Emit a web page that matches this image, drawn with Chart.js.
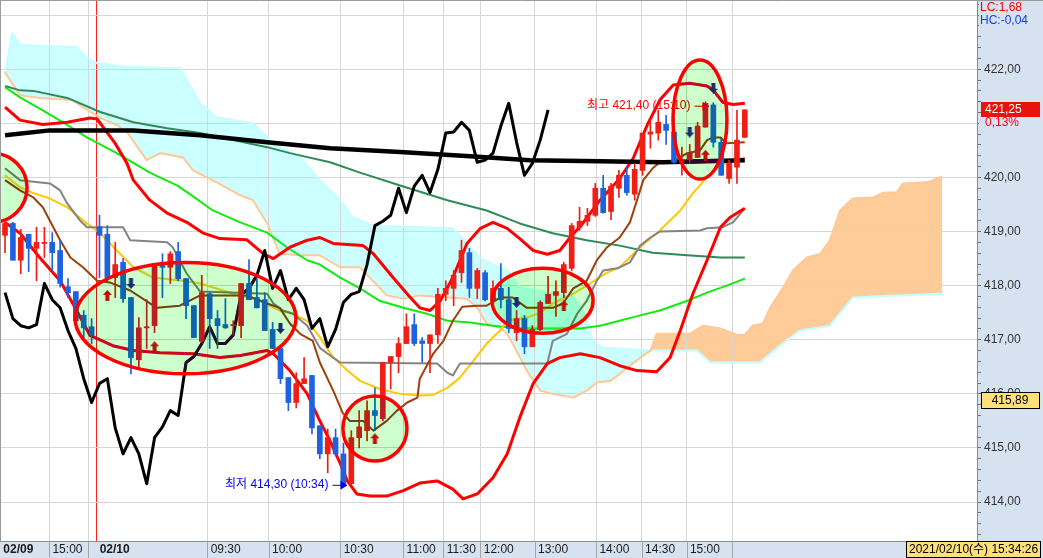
<!DOCTYPE html>
<html>
<head>
<meta charset="utf-8">
<script src="https://cdn.jsdelivr.net/npm/chart.js@4.4.1/dist/chart.umd.min.js"></script>
<style>
html, body { margin: 0; padding: 0; background: #fff; }
canvas { display: block; }
</style>
</head>
<body>
<canvas id="chart" width="1043" height="558"></canvas>
<script>
// 캔들 (시가 / 고가 / 저가 / 종가), x = 봉 번호
const opens = [418.93,419.15,418.47,418.95,418.69,418.78,418.80,418.65,417.98,417.89,
  417.45,417.24,419.09,418.95,418.15,418.43,417.78,416.63,417.22,417.26,
  418.37,418.34,418.63,418.13,417.63,416.97,417.85,417.39,417.28,417.26,
  417.26,418.04,417.78,417.74,417.19,416.84,416.30,415.84,416.19,416.34,
  415.41,414.89,415.19,414.89,414.34,415.19,415.32,415.69,415.54,416.58,
  416.69,416.93,417.28,416.98,416.93,417.09,417.84,417.95,418.24,418.61,
  417.95,418.24,417.72,417.95,417.74,417.13,417.39,416.87,417.19,417.67,
  417.82,417.87,418.32,419.08,419.19,419.30,419.80,419.37,419.80,420.04,
  419.69,420.13,420.80,420.82,420.98,420.84,420.28,420.32,420.37,420.93,
  421.34,420.65,419.98,420.19,420.74];
const highs = [419.17,419.17,419.04,418.95,419.08,419.08,418.98,418.84,418.13,417.89,
  417.54,417.39,419.30,419.11,418.80,418.50,417.78,417.41,417.74,418.41,
  418.59,418.63,418.80,418.13,417.63,418.19,417.87,417.54,417.76,417.35,
  418.04,418.48,418.13,417.87,417.32,416.84,416.30,416.39,416.67,416.34,
  415.41,415.35,415.35,415.09,415.32,415.69,415.87,416.11,416.58,416.69,
  417.04,417.48,417.48,417.04,417.09,417.95,418.09,418.28,418.84,418.69,
  418.32,418.28,418.09,418.41,417.97,417.54,417.45,417.26,417.72,418.17,
  418.09,418.43,419.15,419.45,419.43,419.89,420.04,419.89,420.13,420.19,
  420.26,420.82,421.06,421.24,421.15,421.10,420.56,420.61,421.02,421.40,
  421.38,420.74,420.32,421.24,421.25];
const lows = [418.61,418.47,418.22,418.26,418.09,418.52,418.28,417.97,417.78,417.30,
  417.04,416.93,418.15,418.09,417.78,417.69,416.37,416.48,416.84,417.13,
  417.78,418.04,418.09,417.39,417.04,416.97,416.84,416.84,417.21,417.08,
  417.04,417.74,417.59,417.17,416.84,416.19,415.69,415.74,416.19,415.26,
  414.80,414.54,414.85,414.30,414.34,415.00,415.13,415.32,415.50,416.09,
  416.39,416.93,416.89,416.58,416.39,416.93,417.72,417.63,418.06,417.78,
  417.76,417.72,417.67,417.59,417.13,416.98,416.74,416.87,417.17,417.67,
  417.43,417.78,418.28,419.02,419.11,419.28,419.34,419.22,419.63,419.67,
  419.58,420.04,420.54,420.69,420.61,420.26,420.04,420.26,420.37,420.93,
  420.56,420.04,419.89,419.89,420.74];
const closes = [419.15,418.47,418.89,418.69,418.80,418.80,418.61,418.04,417.87,417.35,
  417.22,417.08,418.93,418.15,418.39,417.76,416.67,417.22,417.24,418.37,
  418.34,418.59,418.13,417.63,417.04,417.87,417.39,417.26,417.22,417.28,
  418.04,417.74,417.59,417.17,416.84,416.28,415.84,416.19,416.28,415.37,
  414.89,415.19,414.89,414.34,415.19,415.39,415.69,415.60,416.58,416.69,
  416.93,417.24,416.93,416.93,417.09,417.84,417.95,418.19,418.65,417.95,
  418.28,417.74,417.95,417.74,417.21,417.39,416.87,417.19,417.69,417.84,
  417.89,418.39,419.11,419.19,419.30,419.80,419.35,419.84,420.04,419.72,
  420.15,420.82,420.84,421.02,420.87,420.28,420.32,420.45,420.95,421.37,
  420.65,420.04,420.26,420.69,421.25];

// 후행스팬 (봉 번호 0부터)
const chikou = [417.87,417.39,417.26,417.22,417.28,418.04,417.74,417.59,417.17,416.84,
  416.28,415.84,416.19,416.28,415.37,414.89,415.19,414.89,414.34,415.19,
  415.39,415.69,415.60,416.58,416.69,416.93,417.24,416.93,416.93,417.09,
  417.84,417.95,418.19,418.65,417.95,418.28,417.74,417.95,417.74,417.21,
  417.39,416.87,417.19,417.69,417.84,417.89,418.39,419.11,419.19,419.30,
  419.80,419.35,419.84,420.04,419.72,420.15,420.82,420.84,421.02,420.87,
  420.28,420.32,420.45,420.95,421.37,420.65,420.04,420.26,420.69,421.25];

// 보조지표 선 [봉 번호, 값]
const upperBand = [[0,421.30],[1.9,421.06],[4.8,420.98],[7.9,421.02],[10.8,421.10],[11.7,421.08],[14,420.63],[15.5,420.26],[16.3,419.95],[18.4,419.58],[20.6,419.34],[23.1,419.17],[25.2,418.97],[27.3,418.87],[30.7,418.85],[32.8,418.59],[34.1,418.50],[36.2,418.71],[38.4,418.84],[40,418.89],[41.7,418.78],[43.5,418.76],[45.5,418.74],[46.8,418.59],[49.3,418.15],[51.5,417.78],[52.7,417.59],[54,417.54],[55.3,417.72],[56.9,418.15],[58.7,418.78],[60.4,419.06],[62,419.17],[63.8,419.06],[65.4,418.87],[67.1,418.65],[68.9,418.58],[70.5,418.65],[71.8,418.89],[73.4,419.15],[75.6,419.58],[78.1,419.98],[79.8,420.35],[81.6,420.97],[83.2,421.43],[84.9,421.71],[87,421.74],[89.2,421.69],[90,421.61],[91.2,421.39],[92.5,421.35],[94,421.37]];
const lowerBand = [[0,419.17],[1.9,418.97],[4.4,418.52],[7,418.09],[9.1,417.54],[10.8,417.08],[13.7,416.89],[16.3,416.80],[19.7,416.76],[23.9,416.74],[27.3,416.67],[29.9,416.71],[33.3,416.80],[34.1,416.74],[36.2,416.43],[38.4,416.00],[40,415.50],[41.3,415.13],[42.6,414.71],[43.5,414.39],[44.7,414.15],[46.4,414.11],[48.5,414.11],[50.6,414.21],[52.7,414.35],[54.9,414.39],[56.9,414.24],[58.2,414.06],[60,414.15],[62,414.45],[63.8,414.89],[65.4,415.56],[67.1,416.19],[68.9,416.56],[70.5,416.67],[73.1,416.74],[75.6,416.67],[78.1,416.52],[80.3,416.43],[82.8,416.41],[84.5,416.67],[85.8,417.17],[87.4,417.85],[89.2,418.47],[90.9,419.08],[92.1,419.26],[94,419.43]];
const maLong = [[0,420.78],[5.7,420.87],[16.3,420.87],[24.8,420.78],[33.3,420.65],[41.3,420.54],[50.2,420.47],[59.1,420.39],[66.7,420.32],[75.6,420.30],[83.6,420.28],[94,420.32]];
const maGreen = [[0,421.69],[1.9,421.61],[3.6,421.60],[7.9,421.47],[12.1,421.21],[16.3,421.02],[20.6,420.91],[24.8,420.82],[29,420.69],[33.3,420.56],[36.2,420.45],[41.3,420.28],[45.1,420.09],[50.2,419.85],[56.2,419.58],[61.2,419.39],[65.4,419.15],[69.6,418.97],[73.9,418.84],[78.1,418.74],[82.3,418.61],[86.7,418.56],[90.9,418.52],[94,418.52]];
const maLime = [[0,421.67],[1.9,421.48],[4.8,421.24],[7.9,420.97],[10.4,420.74],[14.2,420.45],[18.4,420.09],[21.9,419.85],[23.9,419.65],[26.4,419.39],[29.9,419.17],[33.3,418.98],[35.8,418.71],[38.4,418.47],[40,418.39],[42.6,418.15],[45.1,417.95],[47.6,417.72],[50.6,417.59],[53.6,417.48],[56.2,417.35],[59.1,417.32],[62,417.26],[65.4,417.21],[73.1,417.21],[75.6,417.26],[78.1,417.35],[80.7,417.45],[83.2,417.54],[86.7,417.72],[89.2,417.87],[91.7,418.00],[94,418.13]];
const maYellow = [[0,420.04],[1.9,419.82],[3.6,419.71],[5.7,419.61],[7.9,419.45],[10.4,419.15],[12.1,418.97],[14.2,418.65],[16.3,418.34],[18.8,418.15],[22.6,418.09],[24.8,418.04],[29,417.85],[32.4,417.72],[34.9,417.54],[36.6,417.48],[38.4,417.35],[40,417.05],[41.7,416.67],[43.5,416.43],[45.1,416.24],[47.6,416.09],[50.2,416.00],[52.7,415.97],[54.4,415.98],[56.2,416.11],[57.8,416.30],[59.5,416.61],[61.2,416.93],[62.9,417.17],[63.8,417.35],[66.3,417.41],[68,417.50],[69.6,417.67],[72.2,417.85],[73.9,418.00],[76.5,418.24],[78.1,418.34],[80.7,418.71],[83.2,419.02],[85.8,419.39],[87.4,419.71],[89.2,420.00],[90.9,420.22],[92.5,420.32],[94,420.37]];
const maGray = [[0,420.17],[1.9,419.95],[5.7,419.89],[7,419.76],[7.9,419.52],[9.5,419.21],[10.4,419.08],[15,419.08],[15.9,418.84],[20.6,418.80],[21.3,418.71],[23.1,418.22],[24.8,417.89],[33.3,417.85],[34.1,417.67],[35.3,417.54],[36.6,417.48],[38.4,417.26],[40,416.85],[41.3,416.71],[42.6,416.58],[54.9,416.56],[56.2,416.39],[56.9,416.34],[57.8,416.56],[68.9,416.56],[69.6,416.98],[71.4,417.11],[72.7,417.48],[73.9,417.72],[75.2,418.09],[76,418.28],[77.8,418.32],[79.4,418.43],[80.7,418.74],[82,418.89],[83.2,419.00],[88.3,419.02],[89.2,419.06],[91.2,419.08],[92.5,419.17],[94,419.43]];
const maBrown = [[0,419.95],[1.9,419.76],[3.6,419.63],[4.8,419.45],[7,418.84],[8.3,418.52],[9.9,418.34],[11.7,418.09],[13.3,418.06],[15.9,417.91],[19.3,417.59],[22.2,417.63],[24.8,417.82],[30.7,417.82],[33.3,417.67],[34.9,417.59],[36.2,417.30],[37.5,417.11],[39.1,416.98],[40,416.58],[41.7,416.06],[42.9,415.65],[43.8,415.50],[45.5,415.50],[46.8,415.32],[48.5,415.50],[49.8,415.69],[51.1,415.84],[52.4,415.93],[52.7,416.28],[54.4,416.74],[55.7,416.98],[56.9,417.35],[58.1,417.61],[60,417.63],[61.2,417.63],[62.9,417.78],[64.5,417.78],[66.3,417.59],[69.6,417.59],[70.9,417.67],[72.2,417.95],[73.9,418.09],[75.2,418.47],[76.5,418.71],[78.1,418.89],[79.4,419.17],[80.3,419.58],[81.1,419.95],[82.3,420.17],[83.2,420.28],[84.9,420.30],[86.7,420.45],[88.3,420.50],[89.2,420.69],[90,420.74],[90.9,420.74],[91.7,420.63],[94,420.65]];

// 선행스팬 1 / 2
const span1 = [[0,421.95],[0.4,421.85],[1.9,421.52],[4.4,421.47],[8.6,421.43],[9.9,421.30],[12.1,421.10],[14.2,420.97],[15.5,420.84],[18,420.32],[19.7,420.45],[22.6,420.37],[23.9,420.13],[26.9,419.91],[29.9,419.67],[31.5,419.58],[33.3,419.15],[34.9,418.59],[37.5,418.56],[40,418.56],[42.6,418.34],[45.1,418.34],[48.5,417.82],[50.6,417.76],[52.7,417.82],[58.7,417.76],[60,417.59],[61.2,417.30],[62.9,417.22],[63.8,417.11],[64.5,416.93],[66.3,416.43],[68,416.06],[69.6,416.00],[72.2,415.93],[73.9,416.06],[75.2,416.21],[76.9,416.24],[78.1,416.37],[80.7,416.67],[82,416.80],[82.8,417.11],[87,417.11],[88.7,417.26],[90.9,417.21],[93,417.09],[94,417.09],[95,417.26],[96.3,417.30],[97.2,417.59],[98.9,417.97],[100.1,418.28],[101.9,418.52],[103.6,418.59],[104.8,418.84],[106.1,419.39],[107.7,419.61],[110.3,419.63],[111.6,419.72],[113.3,419.72],[114.1,419.89],[117.2,419.91],[119.1,420.02]];
const span2 = [[0,421.90],[0.9,422.67],[1.9,422.45],[9.1,422.41],[10.4,422.21],[11.7,422.11],[15.5,422.04],[22.2,422.02],[24.8,421.37],[26.9,421.11],[31.5,421.00],[34.1,420.63],[37.5,420.37],[40,419.95],[42.6,419.58],[44.2,419.26],[46.8,419.11],[56.9,419.06],[58.7,418.78],[60.4,418.50],[63.8,418.28],[65.4,417.97],[72.2,417.78],[73.4,417.54],[74.7,416.98],[76,416.85],[82,416.80],[87.9,416.80],[89.6,416.58],[95.9,416.58],[98.1,416.85],[101,417.17],[104.8,417.26],[107.7,417.78],[113.3,417.82],[119.1,417.85]];

// 매수 / 매도 신호 [봉 번호, 값]
const buySignals = [[13,417.82],[19,416.87],[47,415.17],[71,417.63],[89,420.41]];
const sellSignals = [[16,418.04],[35,417.21],[65,417.69],[87,420.84],[90,421.65]];

// 시간축 라벨
const xTickPos = [-0.64,5.6,10.6,11.6,25.7,33.5,42.6,50.6,55.7,60.4,67.3,75.1,80.9,86.6,92.4];
const xTickText = ['02/09','15:00','','02/10','09:30','10:00','10:30','11:00','11:30','12:00','13:00','14:00','14:30','15:00',''];

const highMark = {i: 89, price: 421.40, time: '15:10'};
const lowMark = {i: 43, price: 414.30, time: '10:34'};
const lastPrice = 421.25, changeText = '0,13%', refPrice = 415.89;
const lcText = 'LC:1,68', hcText = 'HC:-0,04', stamp = '2021/02/10(수) 15:34:26';

// 강조 타원 [중심 봉, 중심 값, 가로 반경(봉), 세로 반경(값)]
const zones = [[-1.65,419.81,4.45,0.64],[22.93,417.40,14.04,1.03],[47,415.36,4.07,0.60],[68.3,417.72,6.42,0.60],[88.3,421.07,3.43,1.10]];

const FONT = "'Liberation Sans', 'Noto Sans CJK KR', sans-serif";
Chart.defaults.font.family = FONT;
Chart.defaults.font.size = 12;
const UP = '#f01e14', DOWN = '#1f62e0', AXIS_BG = '#d7e2f0';
const fmt = v => v.toFixed(2).replace('.', ',');

function arrowImg(color, up) {
    const c = document.createElement('canvas');
    c.width = 9; c.height = 11;
    const g = c.getContext('2d');
    g.fillStyle = color;
    g.beginPath();
    if (up) {
        g.moveTo(4.5, 0); g.lineTo(9, 5); g.lineTo(6.5, 5); g.lineTo(6.5, 11); g.lineTo(2.5, 11); g.lineTo(2.5, 5); g.lineTo(0, 5);
    } else {
        g.moveTo(4.5, 11); g.lineTo(9, 6); g.lineTo(6.5, 6); g.lineTo(6.5, 0); g.lineTo(2.5, 0); g.lineTo(2.5, 6); g.lineTo(0, 6);
    }
    g.closePath(); g.fill();
    return c;
}

const line = (data, color, width, order) => ({
    type: 'line', data: data.map(([x, y]) => ({x, y})), borderColor: color, borderWidth: width,
    pointRadius: 0, tension: 0, fill: false, order, borderJoinStyle: 'round'
});

const idx = closes.map((_, i) => i);
const candleColor = idx.map(i => closes[i] >= opens[i] ? UP : DOWN);

function markLabel(ctx, x, y, m, word, color, dy) {
    const tip = x.getPixelForValue(m.i) + 4;
    const py = y.getPixelForValue(m.price) + dy;
    ctx.fillStyle = color; ctx.strokeStyle = color; ctx.lineWidth = 1;
    ctx.textAlign = 'right'; ctx.textBaseline = 'middle';
    ctx.fillText(word + ' ' + fmt(m.price) + ' (' + m.time + ')', tip - 19, py);
    ctx.beginPath(); ctx.moveTo(tip - 15, py + 0.5); ctx.lineTo(tip - 5, py + 0.5); ctx.stroke();
    ctx.beginPath(); ctx.moveTo(tip - 7, py - 4); ctx.lineTo(tip, py + 0.5); ctx.lineTo(tip - 7, py + 5); ctx.closePath(); ctx.fill();
}

// 축 배경, 타원, 가격 박스
const decor = {
    id: 'decor',
    beforeDraw(chart) {
        const {ctx, chartArea: a, width, height} = chart;
        ctx.save();
        ctx.globalCompositeOperation = 'destination-over';
        ctx.fillStyle = '#fff';
        ctx.fillRect(0, 0, width, height);
        ctx.globalCompositeOperation = 'source-over';
        ctx.fillStyle = AXIS_BG;
        ctx.fillRect(a.right, 0, width - a.right, height);
        ctx.fillRect(0, a.bottom, a.right, height - a.bottom);
        ctx.restore();
    },
    afterDatasetsDraw(chart) {
        const {ctx, chartArea: a, scales: {x, y}} = chart;
        ctx.save();
        ctx.beginPath(); ctx.rect(a.left, a.top, a.right - a.left, a.bottom - a.top); ctx.clip();
        ctx.font = '12px ' + FONT;
        markLabel(ctx, x, y, highMark, '최고', '#ff0000', 4);
        markLabel(ctx, x, y, lowMark, '최저', '#0000ff', -1);
        zones.forEach(([ci, cp, ri, rp]) => {
            const cx = x.getPixelForValue(ci), cy = y.getPixelForValue(cp);
            const rx = x.getPixelForValue(ci + ri) - cx, ry = cy - y.getPixelForValue(cp + rp);
            ctx.beginPath(); ctx.ellipse(cx, cy, rx, ry, 0, 0, Math.PI * 2);
            ctx.globalCompositeOperation = 'difference';
            ctx.fillStyle = 'rgb(51,0,51)'; ctx.fill();
            ctx.globalCompositeOperation = 'source-over';
            ctx.lineWidth = 3.5; ctx.strokeStyle = '#ff0000'; ctx.stroke();
        });
        ctx.restore();
    },
    afterDraw(chart) {
        const {ctx, chartArea: a, width, height, scales: {x, y}} = chart;
        ctx.save();
        ctx.lineWidth = 1;
        // LC / HC 영역 (423,00 라벨 가림)
        ctx.fillStyle = AXIS_BG; ctx.fillRect(a.right + 2, 1, width - a.right - 2, 27);
        ctx.strokeStyle = '#9a9a9a';
        ctx.beginPath(); ctx.moveTo(0, 0.5); ctx.lineTo(width, 0.5); ctx.moveTo(0.5, 0); ctx.lineTo(0.5, a.bottom); ctx.stroke();
        ctx.strokeStyle = '#a4a4a4';
        x.ticks.forEach((t, k) => {
            if (k === 0 || xTickText[k] === '02/10') return;
            const p = Math.round(x.getPixelForValue(t.value)) + 0.5;
            ctx.beginPath(); ctx.moveTo(p, a.bottom); ctx.lineTo(p, height); ctx.stroke();
        });
        ctx.font = '12px ' + FONT;
        ctx.textBaseline = 'middle'; ctx.textAlign = 'left';
        ctx.fillStyle = '#ff0000'; ctx.fillText(lcText, a.right + 3, 8);
        ctx.fillStyle = '#1040f0'; ctx.fillText(hcText, a.right + 3, 21);
        // 현재가
        const yc = Math.round(y.getPixelForValue(lastPrice));
        ctx.fillStyle = AXIS_BG; ctx.fillRect(a.right + 2, yc + 7, width - a.right - 2, 13);
        ctx.fillStyle = '#e8140c'; ctx.fillRect(a.right + 4, yc - 8, 59, 15);
        ctx.fillStyle = '#fff'; ctx.fillText(fmt(lastPrice), a.right + 8, yc);
        ctx.fillStyle = '#ff0000'; ctx.fillText(changeText, a.right + 8, yc + 13);
        // 기준 가격 박스
        const yr = Math.round(y.getPixelForValue(refPrice));
        ctx.fillStyle = '#ffe07a'; ctx.fillRect(a.right + 4.5, yr - 7.5, 58, 16);
        ctx.strokeStyle = '#000'; ctx.strokeRect(a.right + 4.5, yr - 7.5, 58, 16);
        ctx.fillStyle = '#000'; ctx.textAlign = 'center'; ctx.fillText(fmt(refPrice), a.right + 33, yr + 0.5);
        // 날짜 박스
        ctx.fillStyle = '#ffe07a'; ctx.fillRect(906.5, a.bottom + 0.5, 134, 16);
        ctx.strokeRect(906.5, a.bottom + 0.5, 134, 16);
        ctx.fillStyle = '#000'; ctx.textAlign = 'left'; ctx.fillText(stamp, 909, a.bottom + 9);
        ctx.restore();
    }
};

new Chart(document.getElementById('chart'), {
    type: 'line',
    data: {
        datasets: [
            {...line(span1, '#ffc896', 2, 30), fill: {target: 1, above: '#ffcc99', below: '#ccffff'}},
            line(span2, '#c4ffff', 2, 31),
            line(maGreen, '#2e8b57', 2, 20),
            line(maLime, '#10ec10', 2, 20),
            line(maGray, '#848484', 2, 19),
            line(maYellow, '#ffc800', 2, 19),
            line(maBrown, '#a0400a', 2, 18),
            line(upperBand, '#ff0000', 3, 17),
            line(lowerBand, '#ff0000', 3, 17),
            line(maLong, '#000000', 4.5, 16),
            line(chikou.map((v, i) => [i, v]), '#000000', 3, 15),
            {type: 'bar', data: idx.map(i => ({x: i, y: [lows[i], highs[i]]})), backgroundColor: candleColor,
                barThickness: 1, grouped: false, order: 6},
            {type: 'bar', data: idx.map(i => ({x: i, y: [opens[i], closes[i]]})), backgroundColor: candleColor,
                barThickness: 5, minBarLength: 1, grouped: false, order: 5},
            {type: 'line', data: buySignals.map(([x, y]) => ({x, y})), showLine: false, pointRadius: 5,
                pointStyle: arrowImg('#ee1030', true), order: 1},
            {type: 'line', data: sellSignals.map(([x, y]) => ({x, y})), showLine: false, pointRadius: 5,
                pointStyle: arrowImg('#4a2ca0', false), order: 1}
        ]
    },
    options: {
        responsive: false,
        animation: false,
        devicePixelRatio: 1,
        layout: {padding: 0, autoPadding: false},
        plugins: {legend: {display: false}, tooltip: {enabled: false}, filler: {drawTime: 'beforeDraw'}},
        scales: {
            x: {
                type: 'linear', min: -0.64, max: 123.5, offset: false,
                afterBuildTicks: s => { s.ticks = xTickPos.map(v => ({value: v})); },
                afterFit: s => { s.height = 17; s.paddingLeft = 0; s.paddingRight = 0; },
                ticks: {
                    autoSkip: false, maxRotation: 0, align: 'start', padding: 1, color: '#1a1a1a',
                    font: c => ({size: 12, weight: (xTickText[c.index] || '').includes('/') ? 'bold' : 'normal'}),
                    callback: (v, i) => ' ' + xTickText[i]
                },
                grid: {drawTicks: false, offset: false, color: c => xTickText[c.index] === '02/10' ? '#ff2020' : '#d6d6d6'},
                border: {color: '#8c8c8c'}
            },
            y: {
                type: 'linear', position: 'right', min: 413.28, max: 423.28,
                afterBuildTicks: s => { const t = []; for (let v = 4134; v <= 4232; v += 2) t.push({value: v / 10}); s.ticks = t; },
                afterFit: s => { s.width = 66; s.paddingTop = 0; s.paddingBottom = 0; },
                ticks: {
                    autoSkip: false, padding: 3, color: '#333',
                    callback: v => Math.abs(v - Math.round(v)) < 1e-6 ? fmt(v) : ''
                },
                grid: {
                    color: c => (c.tick && Math.abs(c.tick.value - Math.round(c.tick.value)) < 1e-6) ? '#d6d6d6' : 'rgba(0,0,0,0)',
                    tickColor: '#707070', tickLength: 4
                },
                border: {color: '#8c8c8c'}
            }
        }
    },
    plugins: [decor]
});
</script>
</body>
</html>
